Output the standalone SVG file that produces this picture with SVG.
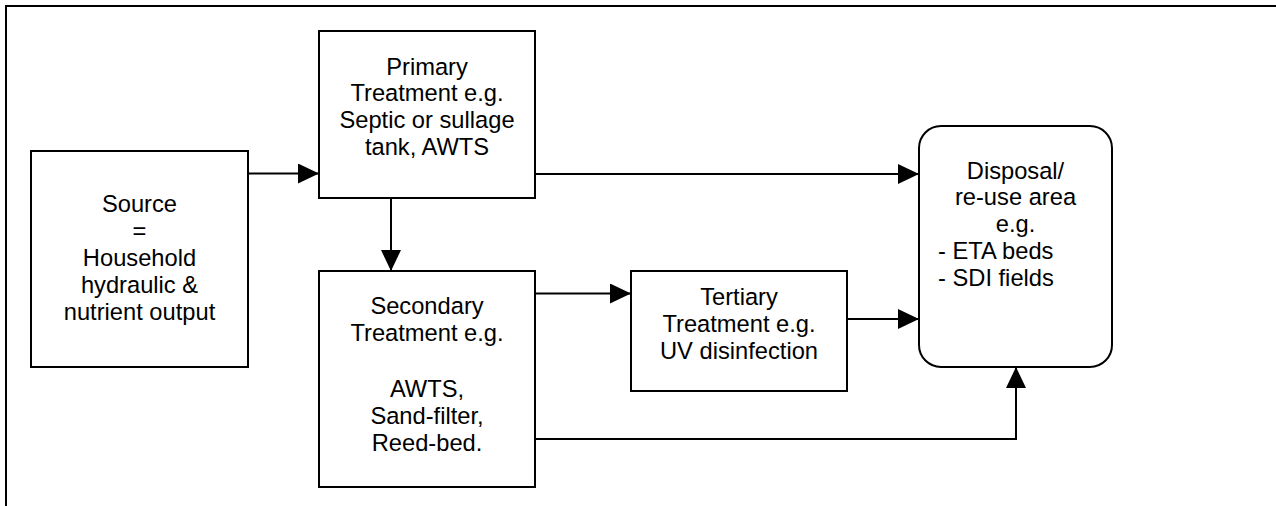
<svg xmlns="http://www.w3.org/2000/svg" width="1276" height="506" viewBox="0 0 1276 506">
<defs>
<style>
.box{fill:#fff;stroke:#000;stroke-width:2}
.ln{fill:none;stroke:#000;stroke-width:2}
text{font-family:"Liberation Sans",Arial,sans-serif;font-size:23.7px;fill:#000}
.c{text-anchor:middle}
</style>
<marker id="ah" markerWidth="21" markerHeight="20" refX="21" refY="10" orient="auto" markerUnits="userSpaceOnUse">
<path d="M0,0 L21,10 L0,20 Z" fill="#000"/>
</marker>
</defs>
<rect width="1276" height="506" fill="#fff"/>
<g id="frame">
<path class="ln" d="M6,506 V6 H1276"/>
</g>
<g id="connectors">
<line class="ln" x1="248" y1="173.5" x2="319" y2="173.5" marker-end="url(#ah)"/>
<line class="ln" x1="391" y1="198" x2="391" y2="271" marker-end="url(#ah)"/>
<line class="ln" x1="535" y1="174" x2="919" y2="174" marker-end="url(#ah)"/>
<line class="ln" x1="535" y1="293.5" x2="631" y2="293.5" marker-end="url(#ah)"/>
<line class="ln" x1="847" y1="319" x2="919" y2="319" marker-end="url(#ah)"/>
<path class="ln" d="M535,439 H1016 V367" marker-end="url(#ah)"/>
</g>
<g id="source">
<rect class="box" x="31" y="151" width="217" height="216"/>
<text class="c" x="139.5" y="212">Source</text>
<text class="c" x="139.5" y="239">=</text>
<text class="c" x="139.5" y="266">Household</text>
<text class="c" x="139.5" y="293">hydraulic &amp;</text>
<text class="c" x="139.5" y="320">nutrient output</text>
</g>
<g id="primary">
<rect class="box" x="319" y="31" width="216" height="167"/>
<text class="c" x="427" y="74.5">Primary</text>
<text class="c" x="427" y="101">Treatment e.g.</text>
<text class="c" x="427" y="128">Septic or sullage</text>
<text class="c" x="427" y="155">tank, AWTS</text>
</g>
<g id="secondary">
<rect class="box" x="319" y="271" width="216" height="216"/>
<text class="c" x="427" y="313.5">Secondary</text>
<text class="c" x="427" y="340.5">Treatment e.g.</text>
<text class="c" x="427" y="397">AWTS,</text>
<text class="c" x="427" y="424">Sand-filter,</text>
<text class="c" x="427" y="451">Reed-bed.</text>
</g>
<g id="tertiary">
<rect class="box" x="631" y="271" width="216" height="120"/>
<text class="c" x="739" y="305">Tertiary</text>
<text class="c" x="739" y="332">Treatment e.g.</text>
<text class="c" x="739" y="358.5">UV disinfection</text>
</g>
<g id="disposal">
<rect class="box" x="919" y="126" width="193" height="241" rx="22" ry="22"/>
<text class="c" x="1015.5" y="178.5">Disposal/</text>
<text class="c" x="1015.5" y="205">re-use area</text>
<text class="c" x="1015.5" y="232">e.g.</text>
<text x="938" y="259">- ETA beds</text>
<text x="938" y="286">- SDI fields</text>
</g>
</svg>
